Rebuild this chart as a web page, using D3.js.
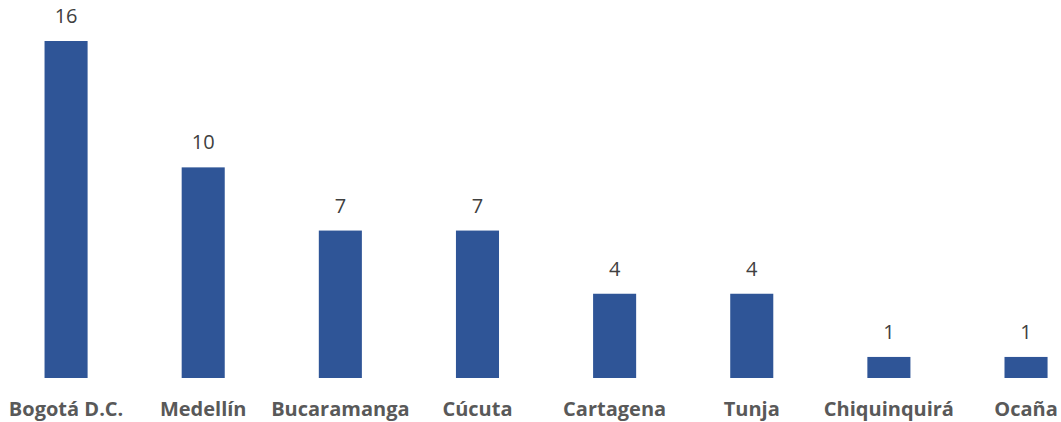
<!DOCTYPE html>
<html>
<head>
<meta charset="utf-8">
<script src="https://cdn.jsdelivr.net/npm/d3@7"></script>
<style>
body { margin: 0; background: #fff; overflow: hidden; }
</style>
</head>
<body>
<svg id="chart" width="1061" height="422"></svg>
<script>
var cities = ["Bogotá D.C.", "Medellín", "Bucaramanga", "Cúcuta", "Cartagena", "Tunja", "Chiquinquirá", "Ocaña"];
var counts = [16, 10, 7, 7, 4, 4, 1, 1];

var svg = d3.select("#chart");
var baseY = 378;

// plot runs a bit past the right edge, like the source image
var x = d3.scaleBand().domain(cities).range([-2.5, 1094.6]).paddingInner(0.686).paddingOuter(0.343);
var y = d3.scaleLinear().domain([0, 16]).range([baseY, 41]);

svg.selectAll("rect.bar").data(cities).enter().append("rect")
    .attr("class", "bar")
    .attr("x", function(d) { return x(d); })
    .attr("width", x.bandwidth())
    .attr("y", function(d, i) { return y(counts[i]); })
    .attr("height", function(d, i) { return baseY - y(counts[i]); })
    .attr("fill", "#2F5597");

svg.selectAll("text.val").data(cities).enter().append("text")
    .attr("class", "val")
    .attr("x", function(d) { return x(d) + x.bandwidth() / 2; })
    .attr("y", function(d, i) { return y(counts[i]) - 18; })
    .attr("text-anchor", "middle")
    .style("font-family", "'Open Sans', sans-serif")
    .style("font-size", "20px")
    .attr("fill", "#404040")
    .text(function(d, i) { return counts[i]; });

var xAxis = d3.axisBottom(x).tickSize(0).tickPadding(0);
var gx = svg.append("g").attr("transform", "translate(0," + baseY + ")").call(xAxis);
gx.select(".domain").remove();
gx.selectAll("text")
    .attr("y", 38)
    .attr("dy", 0)
    .style("font-family", "'Open Sans', sans-serif")
    .style("font-size", "20px")
    .style("font-weight", "bold")
    .attr("fill", "#595959");
</script>
</body>
</html>
